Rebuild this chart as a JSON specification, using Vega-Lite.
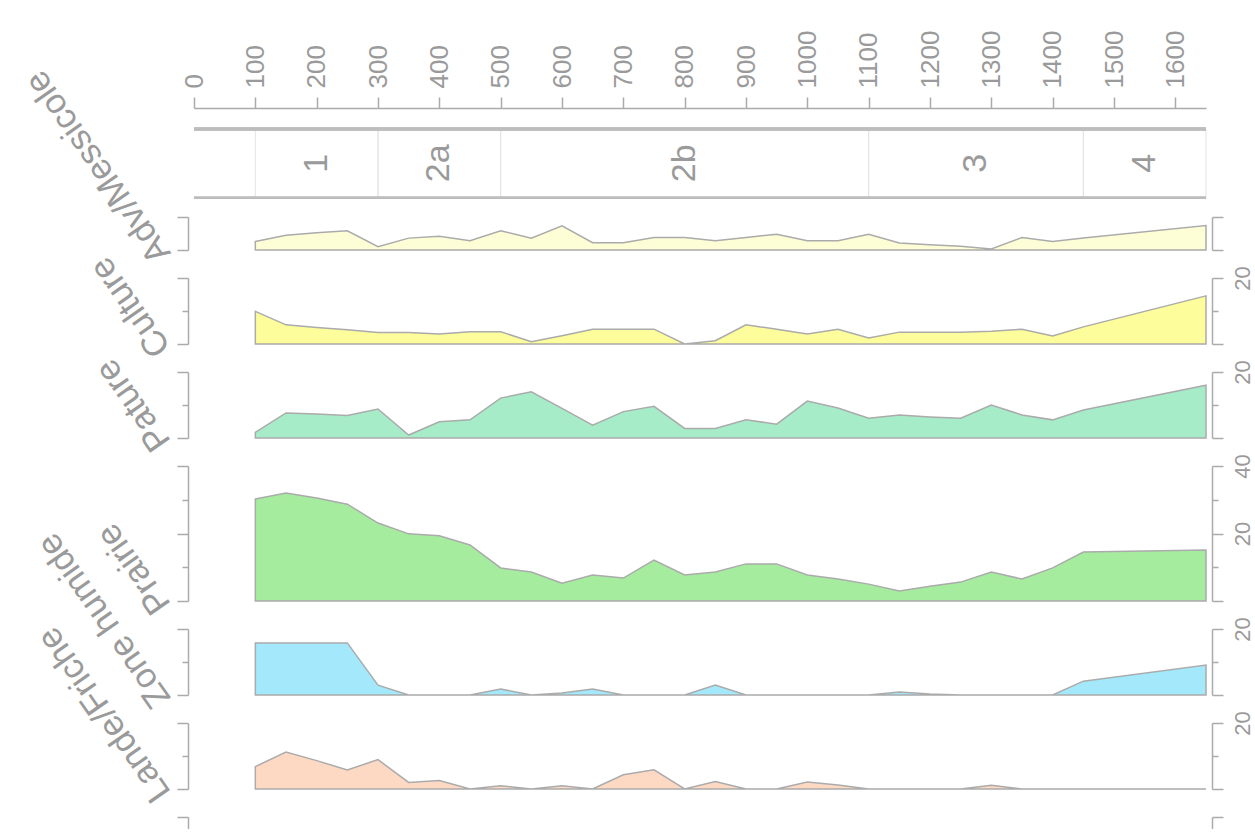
{
  "$schema": "https://vega.github.io/schema/vega-lite/v6.json",
  "padding": {"left": 18, "top": 30, "right": 0, "bottom": 0},
  "background": "white",
  "datasets": {
    "zones": [
      {"zone": "1", "start": 100, "end": 300},
      {"zone": "2a", "start": 300, "end": 500},
      {"zone": "2b", "start": 500, "end": 1100},
      {"zone": "3", "start": 1100, "end": 1450},
      {"zone": "4", "start": 1450, "end": 1650}
    ],
    "pollen": [
      {"depth":100,"taxon":"Adv/Messicole","value":2.6},{"depth":150,"taxon":"Adv/Messicole","value":4.5},{"depth":200,"taxon":"Adv/Messicole","value":5.2},{"depth":250,"taxon":"Adv/Messicole","value":5.8},{"depth":300,"taxon":"Adv/Messicole","value":1.0},{"depth":350,"taxon":"Adv/Messicole","value":3.6},{"depth":400,"taxon":"Adv/Messicole","value":4.2},{"depth":450,"taxon":"Adv/Messicole","value":2.8},{"depth":500,"taxon":"Adv/Messicole","value":5.8},{"depth":550,"taxon":"Adv/Messicole","value":3.6},{"depth":600,"taxon":"Adv/Messicole","value":7.3},{"depth":650,"taxon":"Adv/Messicole","value":2.2},{"depth":700,"taxon":"Adv/Messicole","value":2.2},{"depth":750,"taxon":"Adv/Messicole","value":3.8},{"depth":800,"taxon":"Adv/Messicole","value":3.8},{"depth":850,"taxon":"Adv/Messicole","value":2.8},{"depth":900,"taxon":"Adv/Messicole","value":3.8},{"depth":950,"taxon":"Adv/Messicole","value":4.8},{"depth":1000,"taxon":"Adv/Messicole","value":2.8},{"depth":1050,"taxon":"Adv/Messicole","value":2.8},{"depth":1100,"taxon":"Adv/Messicole","value":4.8},{"depth":1150,"taxon":"Adv/Messicole","value":2.1},{"depth":1200,"taxon":"Adv/Messicole","value":1.6},{"depth":1250,"taxon":"Adv/Messicole","value":1.1},{"depth":1300,"taxon":"Adv/Messicole","value":0.3},{"depth":1350,"taxon":"Adv/Messicole","value":3.8},{"depth":1400,"taxon":"Adv/Messicole","value":2.6},{"depth":1450,"taxon":"Adv/Messicole","value":3.6},{"depth":1650,"taxon":"Adv/Messicole","value":7.4},
      {"depth":100,"taxon":"Culture","value":9.9},{"depth":150,"taxon":"Culture","value":5.8},{"depth":200,"taxon":"Culture","value":5.0},{"depth":250,"taxon":"Culture","value":4.3},{"depth":300,"taxon":"Culture","value":3.5},{"depth":350,"taxon":"Culture","value":3.5},{"depth":400,"taxon":"Culture","value":3.0},{"depth":450,"taxon":"Culture","value":3.7},{"depth":500,"taxon":"Culture","value":3.7},{"depth":550,"taxon":"Culture","value":0.7},{"depth":600,"taxon":"Culture","value":2.5},{"depth":650,"taxon":"Culture","value":4.5},{"depth":700,"taxon":"Culture","value":4.5},{"depth":750,"taxon":"Culture","value":4.5},{"depth":800,"taxon":"Culture","value":0},{"depth":850,"taxon":"Culture","value":1.0},{"depth":900,"taxon":"Culture","value":5.8},{"depth":950,"taxon":"Culture","value":4.5},{"depth":1000,"taxon":"Culture","value":3.0},{"depth":1050,"taxon":"Culture","value":4.5},{"depth":1100,"taxon":"Culture","value":1.8},{"depth":1150,"taxon":"Culture","value":3.6},{"depth":1200,"taxon":"Culture","value":3.6},{"depth":1250,"taxon":"Culture","value":3.6},{"depth":1300,"taxon":"Culture","value":3.9},{"depth":1350,"taxon":"Culture","value":4.5},{"depth":1400,"taxon":"Culture","value":2.4},{"depth":1450,"taxon":"Culture","value":5.2},{"depth":1650,"taxon":"Culture","value":14.6},
      {"depth":100,"taxon":"Pature","value":1.7},{"depth":150,"taxon":"Pature","value":7.6},{"depth":200,"taxon":"Pature","value":7.3},{"depth":250,"taxon":"Pature","value":6.8},{"depth":300,"taxon":"Pature","value":8.8},{"depth":350,"taxon":"Pature","value":0.9},{"depth":400,"taxon":"Pature","value":4.9},{"depth":450,"taxon":"Pature","value":5.5},{"depth":500,"taxon":"Pature","value":12.1},{"depth":550,"taxon":"Pature","value":14.0},{"depth":600,"taxon":"Pature","value":9.0},{"depth":650,"taxon":"Pature","value":3.9},{"depth":700,"taxon":"Pature","value":8.0},{"depth":750,"taxon":"Pature","value":9.6},{"depth":800,"taxon":"Pature","value":2.9},{"depth":850,"taxon":"Pature","value":2.9},{"depth":900,"taxon":"Pature","value":5.5},{"depth":950,"taxon":"Pature","value":4.2},{"depth":1000,"taxon":"Pature","value":11.2},{"depth":1050,"taxon":"Pature","value":9.1},{"depth":1100,"taxon":"Pature","value":6.0},{"depth":1150,"taxon":"Pature","value":7.0},{"depth":1200,"taxon":"Pature","value":6.4},{"depth":1250,"taxon":"Pature","value":6.0},{"depth":1300,"taxon":"Pature","value":10.0},{"depth":1350,"taxon":"Pature","value":7.0},{"depth":1400,"taxon":"Pature","value":5.5},{"depth":1450,"taxon":"Pature","value":8.5},{"depth":1650,"taxon":"Pature","value":16.0},
      {"depth":100,"taxon":"Prairie","value":30.2},{"depth":150,"taxon":"Prairie","value":32.0},{"depth":200,"taxon":"Prairie","value":30.5},{"depth":250,"taxon":"Prairie","value":28.7},{"depth":300,"taxon":"Prairie","value":23.1},{"depth":350,"taxon":"Prairie","value":19.9},{"depth":400,"taxon":"Prairie","value":19.3},{"depth":450,"taxon":"Prairie","value":16.6},{"depth":500,"taxon":"Prairie","value":9.8},{"depth":550,"taxon":"Prairie","value":8.6},{"depth":600,"taxon":"Prairie","value":5.3},{"depth":650,"taxon":"Prairie","value":7.7},{"depth":700,"taxon":"Prairie","value":6.8},{"depth":750,"taxon":"Prairie","value":12.1},{"depth":800,"taxon":"Prairie","value":7.7},{"depth":850,"taxon":"Prairie","value":8.6},{"depth":900,"taxon":"Prairie","value":11.0},{"depth":950,"taxon":"Prairie","value":11.0},{"depth":1000,"taxon":"Prairie","value":7.7},{"depth":1050,"taxon":"Prairie","value":6.5},{"depth":1100,"taxon":"Prairie","value":5.0},{"depth":1150,"taxon":"Prairie","value":3.0},{"depth":1200,"taxon":"Prairie","value":4.4},{"depth":1250,"taxon":"Prairie","value":5.6},{"depth":1300,"taxon":"Prairie","value":8.6},{"depth":1350,"taxon":"Prairie","value":6.5},{"depth":1400,"taxon":"Prairie","value":9.8},{"depth":1450,"taxon":"Prairie","value":14.5},{"depth":1650,"taxon":"Prairie","value":15.1},
      {"depth":100,"taxon":"Zone humide","value":15.8},{"depth":150,"taxon":"Zone humide","value":15.8},{"depth":200,"taxon":"Zone humide","value":15.8},{"depth":250,"taxon":"Zone humide","value":15.8},{"depth":300,"taxon":"Zone humide","value":3.0},{"depth":350,"taxon":"Zone humide","value":0},{"depth":400,"taxon":"Zone humide","value":0},{"depth":450,"taxon":"Zone humide","value":0},{"depth":500,"taxon":"Zone humide","value":1.8},{"depth":550,"taxon":"Zone humide","value":0},{"depth":600,"taxon":"Zone humide","value":0.6},{"depth":650,"taxon":"Zone humide","value":1.8},{"depth":700,"taxon":"Zone humide","value":0},{"depth":750,"taxon":"Zone humide","value":0},{"depth":800,"taxon":"Zone humide","value":0},{"depth":850,"taxon":"Zone humide","value":3.0},{"depth":900,"taxon":"Zone humide","value":0},{"depth":950,"taxon":"Zone humide","value":0},{"depth":1000,"taxon":"Zone humide","value":0},{"depth":1050,"taxon":"Zone humide","value":0},{"depth":1100,"taxon":"Zone humide","value":0},{"depth":1150,"taxon":"Zone humide","value":0.9},{"depth":1200,"taxon":"Zone humide","value":0.3},{"depth":1250,"taxon":"Zone humide","value":0},{"depth":1300,"taxon":"Zone humide","value":0},{"depth":1350,"taxon":"Zone humide","value":0},{"depth":1400,"taxon":"Zone humide","value":0},{"depth":1450,"taxon":"Zone humide","value":4.2},{"depth":1650,"taxon":"Zone humide","value":9.1},
      {"depth":100,"taxon":"Lande/Friche","value":6.8},{"depth":150,"taxon":"Lande/Friche","value":11.2},{"depth":200,"taxon":"Lande/Friche","value":8.6},{"depth":250,"taxon":"Lande/Friche","value":5.8},{"depth":300,"taxon":"Lande/Friche","value":8.9},{"depth":350,"taxon":"Lande/Friche","value":2.0},{"depth":400,"taxon":"Lande/Friche","value":2.6},{"depth":450,"taxon":"Lande/Friche","value":0},{"depth":500,"taxon":"Lande/Friche","value":1.0},{"depth":550,"taxon":"Lande/Friche","value":0},{"depth":600,"taxon":"Lande/Friche","value":1.0},{"depth":650,"taxon":"Lande/Friche","value":0},{"depth":700,"taxon":"Lande/Friche","value":4.3},{"depth":750,"taxon":"Lande/Friche","value":5.8},{"depth":800,"taxon":"Lande/Friche","value":0},{"depth":850,"taxon":"Lande/Friche","value":2.3},{"depth":900,"taxon":"Lande/Friche","value":0},{"depth":950,"taxon":"Lande/Friche","value":0},{"depth":1000,"taxon":"Lande/Friche","value":2.1},{"depth":1050,"taxon":"Lande/Friche","value":1.2},{"depth":1100,"taxon":"Lande/Friche","value":0},{"depth":1150,"taxon":"Lande/Friche","value":0},{"depth":1200,"taxon":"Lande/Friche","value":0},{"depth":1250,"taxon":"Lande/Friche","value":0},{"depth":1300,"taxon":"Lande/Friche","value":1.1},{"depth":1350,"taxon":"Lande/Friche","value":0},{"depth":1400,"taxon":"Lande/Friche","value":0},{"depth":1450,"taxon":"Lande/Friche","value":0},{"depth":1650,"taxon":"Lande/Friche","value":0}
    ]
  },
  "config": {
    "view": {"stroke": null},
    "axis": {"labelFont": "Liberation Sans", "titleFont": "Liberation Sans"}
  },
  "vconcat": [
    {
      "width": 1012, "height": 88,
      "data": {"name": "zones"},
      "layer": [
        {"mark": {"type": "rule", "color": "#e4e4e4", "strokeWidth": 1},
         "encoding": {
           "x": {"field": "start", "type": "quantitative", "scale": {"domain": [0, 1650], "nice": false, "zero": false},
                 "axis": {"orient": "top", "offset": 21, "values": [0,50,100,150,200,250,300,350,400,450,500,550,600,650,700,750,800,850,900,950,1000,1050,1100,1150,1200,1250,1300,1350,1400,1450,1500,1550,1600],
                          "labelExpr": "datum.value % 100 === 0 ? '' + datum.value : ''",
                          "labelAngle": 270, "labelAlign": "left", "labelBaseline": "middle", "labelFontSize": 26, "labelColor": "#9a9a9a",
                          "labelPadding": 9, "labelOverlap": false, "labelFlush": false,
                          "tickSize": {"condition": {"test": "datum.value % 100 === 0", "value": 11}, "value": 7},
                          "tickColor": "#ababab", "tickWidth": 1.5, "domainColor": "#ababab", "domainWidth": 1.5, "grid": false, "title": null}},
           "y": {"datum": 0, "type": "quantitative", "scale": {"domain": [-0.28, 1], "nice": false, "zero": false}, "axis": null},
           "y2": {"datum": 1}
         }},
        {"mark": {"type": "rule", "color": "#e4e4e4", "strokeWidth": 1},
         "encoding": {
           "x": {"field": "end", "type": "quantitative"},
           "y": {"datum": 0, "type": "quantitative"},
           "y2": {"datum": 1}
         }},
        {"mark": {"type": "rule", "color": "#bdbdbd", "strokeWidth": 3},
         "encoding": {
           "x": {"datum": 0, "type": "quantitative"},
           "x2": {"datum": 1650},
           "y": {"datum": 1, "type": "quantitative"}
         }},
        {"mark": {"type": "rule", "color": "#bdbdbd", "strokeWidth": 2},
         "encoding": {
           "x": {"datum": 0, "type": "quantitative"},
           "x2": {"datum": 1650},
           "y": {"datum": 0, "type": "quantitative"}
         }},
        {"transform": [{"calculate": "(datum.start + datum.end) / 2", "as": "mid"}],
         "mark": {"type": "text", "angle": 270, "fontSize": 34, "color": "#9a9a9a", "align": "center", "baseline": "middle", "font": "Liberation Sans"},
         "encoding": {
           "x": {"field": "mid", "type": "quantitative"},
           "y": {"datum": 0.5, "type": "quantitative"},
           "text": {"field": "zone"}
         }}
      ]
    },
    {
      "width": 1012, "height": 33,
      "data": {"name": "pollen"},
      "transform": [{"filter": "datum.taxon === 'Adv/Messicole'"}],
      "layer": [
        {"mark": {"type": "area", "fill": "#fdfdd6", "stroke": "#ababab", "strokeWidth": 1.5, "opacity": 1, "clip": false},
         "encoding": {
           "x": {"field": "depth", "type": "quantitative", "scale": {"domain": [0, 1650], "nice": false, "zero": false},
                 "axis": {"orient": "bottom", "values": [0,100,200,300,400,500,600,700,800,900,1000,1100,1200,1300,1400,1450,1500,1600], "labels": false, "ticks": false, "domain": true, "domainColor": "#ababab", "domainWidth": 2, "grid": true, "gridColor": "#ececec", "gridWidth": 1, "title": null}},
           "y": {"field": "value", "type": "quantitative", "scale": {"domain": [0, 10], "nice": false, "zero": true},
                 "axis": {"orient": "right", "offset": 6, "values": [0, 10], "labels": false, "tickSize": 11, "tickColor": "#ababab", "tickWidth": 1.5, "domainColor": "#ababab", "domainWidth": 1.5, "grid": false, "title": null}}
         }},
        {"mark": {"type": "point", "opacity": 0},
         "encoding": {
           "x": {"field": "depth", "type": "quantitative", "axis": null},
           "y": {"field": "value", "type": "quantitative",
                 "axis": {"orient": "left", "offset": 6, "values": [0, 10], "labels": false, "tickSize": 11, "tickColor": "#ababab", "tickWidth": 1.5, "domainColor": "#ababab", "domainWidth": 1.5, "grid": false,
                          "title": "Adv/Messicole", "titleAngle": 235, "titleAlign": "left", "titleBaseline": "middle", "titleX": -26, "titleY": 42, "titleFontSize": 35, "titleColor": "#9a9a9a", "titleFontWeight": "normal"}}
         }}
      ],
      "resolve": {"axis": {"y": "independent"}}
    },
    {
      "width": 1012, "height": 94,
      "data": {"name": "pollen"},
      "transform": [{"filter": "datum.taxon === 'Culture'"}],
      "layer": [
        {"mark": {"type": "area", "fill": "#fdfd9c", "stroke": "#ababab", "strokeWidth": 1.5, "opacity": 1, "clip": false},
         "encoding": {
           "x": {"field": "depth", "type": "quantitative", "scale": {"domain": [0, 1650], "nice": false, "zero": false},
                 "axis": {"orient": "bottom", "values": [0,100,200,300,400,500,600,700,800,900,1000,1100,1200,1300,1400,1450,1500,1600], "labels": false, "ticks": false, "domain": true, "domainColor": "#ababab", "domainWidth": 2, "grid": true, "gridColor": "#ececec", "gridWidth": 1, "title": null}},
           "y": {"field": "value", "type": "quantitative", "scale": {"domain": [0, 28.5], "nice": false, "zero": true},
                 "axis": {"orient": "right", "offset": 6, "values": [0, 10, 20], "labelExpr": "datum.value === 20 ? datum.label : ''", "labelAngle": 270, "labelAlign": "center", "labelBaseline": "top", "labelFontSize": 22, "labelColor": "#9a9a9a", "labelPadding": 9, "labelOverlap": false, "labelFlush": false,
                          "tickSize": {"condition": {"test": "datum.value % 20 === 0", "value": 11}, "value": 6}, "tickColor": "#ababab", "tickWidth": 1.5, "domainColor": "#ababab", "domainWidth": 1.5, "domainDash": [66, 1000], "grid": false, "title": null}}
         }},
        {"mark": {"type": "point", "opacity": 0},
         "encoding": {
           "x": {"field": "depth", "type": "quantitative", "axis": null},
           "y": {"field": "value", "type": "quantitative",
                 "axis": {"orient": "left", "offset": 6, "values": [0, 10, 20], "labels": false, "tickSize": {"condition": {"test": "datum.value % 20 === 0", "value": 11}, "value": 6}, "tickColor": "#ababab", "tickWidth": 1.5, "domainColor": "#ababab", "domainWidth": 1.5, "domainDash": [66, 1000], "grid": false,
                          "title": "Culture", "titleAngle": 235, "titleAlign": "left", "titleBaseline": "middle", "titleX": -26, "titleY": 103, "titleFontSize": 35, "titleColor": "#9a9a9a", "titleFontWeight": "normal"}}
         }}
      ],
      "resolve": {"axis": {"y": "independent"}}
    },
    {
      "width": 1012, "height": 94,
      "data": {"name": "pollen"},
      "transform": [{"filter": "datum.taxon === 'Pature'"}],
      "layer": [
        {"mark": {"type": "area", "fill": "#a6ecc8", "stroke": "#ababab", "strokeWidth": 1.5, "opacity": 1, "clip": false},
         "encoding": {
           "x": {"field": "depth", "type": "quantitative", "scale": {"domain": [0, 1650], "nice": false, "zero": false},
                 "axis": {"orient": "bottom", "values": [0,100,200,300,400,500,600,700,800,900,1000,1100,1200,1300,1400,1450,1500,1600], "labels": false, "ticks": false, "domain": true, "domainColor": "#ababab", "domainWidth": 2, "grid": true, "gridColor": "#ececec", "gridWidth": 1, "title": null}},
           "y": {"field": "value", "type": "quantitative", "scale": {"domain": [0, 28.5], "nice": false, "zero": true},
                 "axis": {"orient": "right", "offset": 6, "values": [0, 10, 20], "labelExpr": "datum.value === 20 ? datum.label : ''", "labelAngle": 270, "labelAlign": "center", "labelBaseline": "top", "labelFontSize": 22, "labelColor": "#9a9a9a", "labelPadding": 9, "labelOverlap": false, "labelFlush": false,
                          "tickSize": {"condition": {"test": "datum.value % 20 === 0", "value": 11}, "value": 6}, "tickColor": "#ababab", "tickWidth": 1.5, "domainColor": "#ababab", "domainWidth": 1.5, "domainDash": [66, 1000], "grid": false, "title": null}}
         }},
        {"mark": {"type": "point", "opacity": 0},
         "encoding": {
           "x": {"field": "depth", "type": "quantitative", "axis": null},
           "y": {"field": "value", "type": "quantitative",
                 "axis": {"orient": "left", "offset": 6, "values": [0, 10, 20], "labels": false, "tickSize": {"condition": {"test": "datum.value % 20 === 0", "value": 11}, "value": 6}, "tickColor": "#ababab", "tickWidth": 1.5, "domainColor": "#ababab", "domainWidth": 1.5, "domainDash": [66, 1000], "grid": false,
                          "title": "Pature", "titleAngle": 235, "titleAlign": "left", "titleBaseline": "middle", "titleX": -26, "titleY": 103, "titleFontSize": 35, "titleColor": "#9a9a9a", "titleFontWeight": "normal"}}
         }}
      ],
      "resolve": {"axis": {"y": "independent"}}
    },
    {
      "width": 1012, "height": 163,
      "data": {"name": "pollen"},
      "transform": [{"filter": "datum.taxon === 'Prairie'"}],
      "layer": [
        {"mark": {"type": "area", "fill": "#a5ec9f", "stroke": "#ababab", "strokeWidth": 1.5, "opacity": 1, "clip": false},
         "encoding": {
           "x": {"field": "depth", "type": "quantitative", "scale": {"domain": [0, 1650], "nice": false, "zero": false},
                 "axis": {"orient": "bottom", "values": [0,100,200,300,400,500,600,700,800,900,1000,1100,1200,1300,1400,1450,1500,1600], "labels": false, "ticks": false, "domain": true, "domainColor": "#ababab", "domainWidth": 2, "grid": true, "gridColor": "#ececec", "gridWidth": 1, "title": null}},
           "y": {"field": "value", "type": "quantitative", "scale": {"domain": [0, 48.3], "nice": false, "zero": true},
                 "axis": {"orient": "right", "offset": 6, "values": [0, 10, 20, 30, 40], "labelExpr": "datum.value === 20 || datum.value === 40 ? datum.label : ''", "labelAngle": 270, "labelAlign": "center", "labelBaseline": "top", "labelFontSize": 22, "labelColor": "#9a9a9a", "labelPadding": 9, "labelOverlap": false, "labelFlush": false,
                          "tickSize": {"condition": {"test": "datum.value % 20 === 0", "value": 11}, "value": 6}, "tickColor": "#ababab", "tickWidth": 1.5, "domainColor": "#ababab", "domainWidth": 1.5, "domainDash": [135, 1000], "grid": false, "title": null}}
         }},
        {"mark": {"type": "point", "opacity": 0},
         "encoding": {
           "x": {"field": "depth", "type": "quantitative", "axis": null},
           "y": {"field": "value", "type": "quantitative",
                 "axis": {"orient": "left", "offset": 6, "values": [0, 10, 20, 30, 40], "labels": false, "tickSize": {"condition": {"test": "datum.value % 20 === 0", "value": 11}, "value": 6}, "tickColor": "#ababab", "tickWidth": 1.5, "domainColor": "#ababab", "domainWidth": 1.5, "domainDash": [135, 1000], "grid": false,
                          "title": "Prairie", "titleAngle": 235, "titleAlign": "left", "titleBaseline": "middle", "titleX": -26, "titleY": 172, "titleFontSize": 35, "titleColor": "#9a9a9a", "titleFontWeight": "normal"}}
         }}
      ],
      "resolve": {"axis": {"y": "independent"}}
    },
    {
      "width": 1012, "height": 94,
      "data": {"name": "pollen"},
      "transform": [{"filter": "datum.taxon === 'Zone humide'"}],
      "layer": [
        {"mark": {"type": "area", "fill": "#a3e8fb", "stroke": "#ababab", "strokeWidth": 1.5, "opacity": 1, "clip": false},
         "encoding": {
           "x": {"field": "depth", "type": "quantitative", "scale": {"domain": [0, 1650], "nice": false, "zero": false},
                 "axis": {"orient": "bottom", "values": [0,100,200,300,400,500,600,700,800,900,1000,1100,1200,1300,1400,1450,1500,1600], "labels": false, "ticks": false, "domain": true, "domainColor": "#ababab", "domainWidth": 2, "grid": true, "gridColor": "#ececec", "gridWidth": 1, "title": null}},
           "y": {"field": "value", "type": "quantitative", "scale": {"domain": [0, 28.5], "nice": false, "zero": true},
                 "axis": {"orient": "right", "offset": 6, "values": [0, 10, 20], "labelExpr": "datum.value === 20 ? datum.label : ''", "labelAngle": 270, "labelAlign": "center", "labelBaseline": "top", "labelFontSize": 22, "labelColor": "#9a9a9a", "labelPadding": 9, "labelOverlap": false, "labelFlush": false,
                          "tickSize": {"condition": {"test": "datum.value % 20 === 0", "value": 11}, "value": 6}, "tickColor": "#ababab", "tickWidth": 1.5, "domainColor": "#ababab", "domainWidth": 1.5, "domainDash": [66, 1000], "grid": false, "title": null}}
         }},
        {"mark": {"type": "point", "opacity": 0},
         "encoding": {
           "x": {"field": "depth", "type": "quantitative", "axis": null},
           "y": {"field": "value", "type": "quantitative",
                 "axis": {"orient": "left", "offset": 6, "values": [0, 10, 20], "labels": false, "tickSize": {"condition": {"test": "datum.value % 20 === 0", "value": 11}, "value": 6}, "tickColor": "#ababab", "tickWidth": 1.5, "domainColor": "#ababab", "domainWidth": 1.5, "domainDash": [66, 1000], "grid": false,
                          "title": "Zone humide", "titleAngle": 235, "titleAlign": "left", "titleBaseline": "middle", "titleX": -26, "titleY": 103, "titleFontSize": 35, "titleColor": "#9a9a9a", "titleFontWeight": "normal"}}
         }}
      ],
      "resolve": {"axis": {"y": "independent"}}
    },
    {
      "width": 1012, "height": 94,
      "data": {"name": "pollen"},
      "transform": [{"filter": "datum.taxon === 'Lande/Friche'"}],
      "layer": [
        {"mark": {"type": "area", "fill": "#fdd9c4", "stroke": "#ababab", "strokeWidth": 1.5, "opacity": 1, "clip": false},
         "encoding": {
           "x": {"field": "depth", "type": "quantitative", "scale": {"domain": [0, 1650], "nice": false, "zero": false},
                 "axis": {"orient": "bottom", "values": [0,100,200,300,400,500,600,700,800,900,1000,1100,1200,1300,1400,1450,1500,1600], "labels": false, "ticks": false, "domain": true, "domainColor": "#ababab", "domainWidth": 2, "grid": true, "gridColor": "#ececec", "gridWidth": 1, "title": null}},
           "y": {"field": "value", "type": "quantitative", "scale": {"domain": [0, 28.5], "nice": false, "zero": true},
                 "axis": {"orient": "right", "offset": 6, "values": [0, 10, 20], "labelExpr": "datum.value === 20 ? datum.label : ''", "labelAngle": 270, "labelAlign": "center", "labelBaseline": "top", "labelFontSize": 22, "labelColor": "#9a9a9a", "labelPadding": 9, "labelOverlap": false, "labelFlush": false,
                          "tickSize": {"condition": {"test": "datum.value % 20 === 0", "value": 11}, "value": 6}, "tickColor": "#ababab", "tickWidth": 1.5, "domainColor": "#ababab", "domainWidth": 1.5, "domainDash": [66, 1000], "grid": false, "title": null}}
         }},
        {"mark": {"type": "point", "opacity": 0},
         "encoding": {
           "x": {"field": "depth", "type": "quantitative", "axis": null},
           "y": {"field": "value", "type": "quantitative",
                 "axis": {"orient": "left", "offset": 6, "values": [0, 10, 20], "labels": false, "tickSize": {"condition": {"test": "datum.value % 20 === 0", "value": 11}, "value": 6}, "tickColor": "#ababab", "tickWidth": 1.5, "domainColor": "#ababab", "domainWidth": 1.5, "domainDash": [66, 1000], "grid": false,
                          "title": "Lande/Friche", "titleAngle": 235, "titleAlign": "left", "titleBaseline": "middle", "titleX": -26, "titleY": 103, "titleFontSize": 35, "titleColor": "#9a9a9a", "titleFontWeight": "normal"}}
         }}
      ],
      "resolve": {"axis": {"y": "independent"}}
    },
    {
      "width": 1012, "height": 40,
      "data": {"name": "pollen"},
      "transform": [{"filter": "datum.taxon === 'Autres'"}],
      "layer": [
        {"mark": {"type": "area", "fill": "#dddddd", "stroke": "#ababab", "strokeWidth": 1.5, "opacity": 1, "clip": false},
         "encoding": {
           "x": {"field": "depth", "type": "quantitative", "scale": {"domain": [0, 1650], "nice": false, "zero": false},
                 "axis": {"orient": "bottom", "values": [0,100,200,300,400,500,600,700,800,900,1000,1100,1200,1300,1400,1450,1500,1600], "labels": false, "ticks": false, "domain": false, "grid": true, "gridColor": "#ececec", "gridWidth": 1, "title": null}},
           "y": {"field": "value", "type": "quantitative", "scale": {"domain": [36.5, 48.3], "nice": false, "zero": false},
                 "axis": {"orient": "right", "offset": 6, "values": [40], "labels": false, "tickSize": 11, "tickColor": "#ababab", "tickWidth": 1.5, "domainColor": "#ababab", "domainWidth": 1.5, "domainDash": [12, 1000], "grid": false, "title": null}}
         }},
        {"mark": {"type": "point", "opacity": 0},
         "encoding": {
           "x": {"field": "depth", "type": "quantitative", "axis": null},
           "y": {"field": "value", "type": "quantitative",
                 "axis": {"orient": "left", "offset": 6, "values": [40], "labels": false, "tickSize": 11, "tickColor": "#ababab", "tickWidth": 1.5, "domainColor": "#ababab", "domainWidth": 1.5, "domainDash": [12, 1000], "grid": false, "title": null}}
         }}
      ],
      "resolve": {"axis": {"y": "independent"}}
    }
  ],
  "spacing": 0,
  "bounds": "flush"
}
